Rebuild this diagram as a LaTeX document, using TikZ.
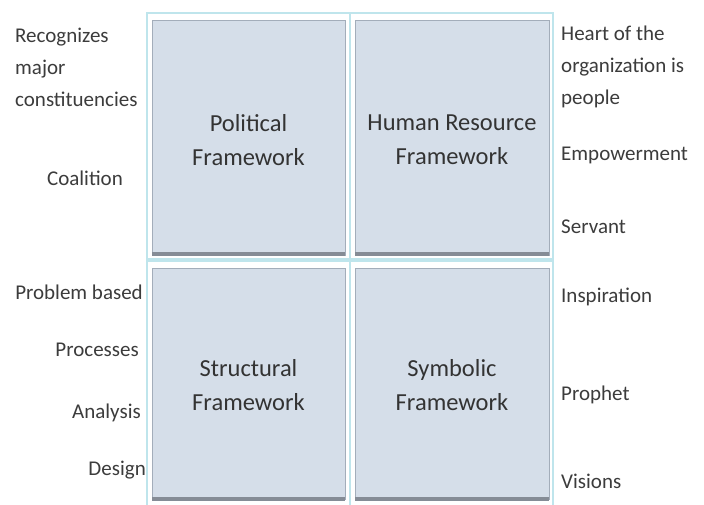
\documentclass[tikz,border=0pt]{standalone}
\usepackage{fontspec}
\setmainfont{Carlito}
\definecolor{framec}{HTML}{BFE5EC}
\definecolor{boxfill}{HTML}{D5DEE9}
\definecolor{boxedge}{HTML}{A3ADBA}
\definecolor{shadowc}{HTML}{858C96}
\definecolor{txt}{HTML}{333333}
\definecolor{sidetxt}{HTML}{3C3C3C}
\begin{document}
\begin{tikzpicture}[x=1pt,y=-1pt,
  cellbox/.style={draw=framec,line width=2.5pt,fill=white},
  fwbox/.style={fill=boxfill,draw=boxedge,line width=0.8pt,align=center,
    font=\fontsize{24.5}{34}\selectfont,text=txt},
  side/.style={font=\fontsize{21}{32}\selectfont,text=sidetxt,inner sep=0pt},
  shade/.style={draw=shadowc,line width=3.5pt}]
\useasboundingbox (0,0) rectangle (704,505);
\fill[white] (0,0) rectangle (704,505);
% cells
\draw[cellbox] (147,13) rectangle (350,259);
\draw[cellbox] (350,13) rectangle (553,259);
\draw[cellbox] (147,261) rectangle (350,506);
\draw[cellbox] (350,261) rectangle (553,506);
% boxes
\path[fwbox] (152,20) rectangle (345,255);
\node[fwbox,draw=none,fill=none] (pol) at (248.5,140) {Political\\Framework};
\path[fwbox] (355,20) rectangle (549,255);
\node[fwbox,draw=none,fill=none] (hr) at (452,140) {Human Resource\\Framework};
\path[fwbox] (152,268) rectangle (345,499);
\node[fwbox,draw=none,fill=none] (str) at (248.5,385) {Structural\\Framework};
\path[fwbox] (355,268) rectangle (549,499);
\node[fwbox,draw=none,fill=none] (sym) at (452,385) {Symbolic\\Framework};
% shadows
\draw[shade] (152,254) -- (345,254);
\draw[shade] (355,254) -- (549,254);
\draw[shade] (152,499) -- (345,499);
\draw[shade] (355,499) -- (549,499);
% left labels
\node[side,anchor=west,align=left] (rec) at (15,67) {Recognizes\\major\\constituencies};
\node[side] (coa) at (85,178) {Coalition};
\node[side,anchor=east] (prob) at (143,292) {Problem based};
\node[side,anchor=east] (proc) at (139,350) {Processes};
\node[side,anchor=east] (ana) at (141,413) {Analysis};
\node[side,anchor=east] (des) at (146,470) {Design};
% right labels
\node[side,anchor=west,align=left] (heart) at (561,67) {Heart of the\\organization is\\people};
\node[side,anchor=west] (emp) at (561,155) {Empowerment};
\node[side,anchor=west] (ser) at (561,227) {Servant};
\node[side,anchor=west] (ins) at (561,297) {Inspiration};
\node[side,anchor=west] (pro) at (561,395) {Prophet};
\node[side,anchor=west] (vis) at (561,481) {Visions};
\end{tikzpicture}
\end{document}
